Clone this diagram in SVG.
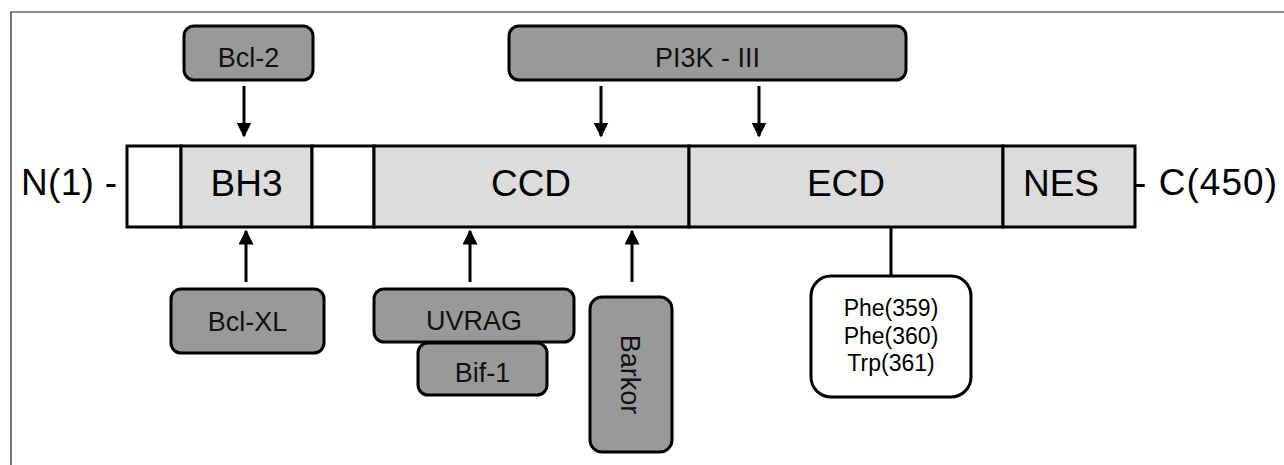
<svg xmlns="http://www.w3.org/2000/svg" width="1284" height="465" viewBox="0 0 1284 465">
  <style>
    .frame { fill: none; stroke: #1a1a1a; stroke-width: 1.2; }
    .dom { stroke: #000; stroke-width: 3; }
    .dom-blank { fill: #ffffff; }
    .dom-fill { fill: #dcdcdc; }
    .partner { fill: #999999; stroke: #000; stroke-width: 3; }
    .site { fill: #ffffff; stroke: #000; stroke-width: 3; }
    .big { font-family: "Liberation Sans", Arial, sans-serif; font-size: 37px; fill: #000; }
    .lbl { font-family: "Liberation Sans", Arial, sans-serif; font-size: 27px; fill: #111; text-anchor: middle; }
    .res { font-family: "Liberation Sans", Arial, sans-serif; font-size: 23px; fill: #000; text-anchor: middle; }
    .link { stroke: #000; stroke-width: 3; fill: none; }
  </style>
  <defs>
    <marker id="head" markerWidth="5" markerHeight="5" refX="4.5" refY="2.5" orient="auto" markerUnits="strokeWidth">
      <path d="M0,0 L5,2.5 L0,5 Z" fill="#000"/>
    </marker>
  </defs>

  <rect width="1284" height="465" fill="#ffffff"/>
  <!-- outer frame: top and left edges only -->
  <path class="frame" d="M11,465 V12 H1284"/>

  <!-- terminal labels -->
  <g id="n-term"><text class="big" x="21" y="195" textLength="96" lengthAdjust="spacing">N(1) -</text></g>
  <g id="c-term"><text class="big" x="1134" y="195" textLength="143" lengthAdjust="spacing">- C(450)</text></g>

  <!-- domain bar -->
  <g id="seg-1"><rect class="dom dom-blank" x="127" y="146" width="54" height="81"/></g>
  <g id="bh3">
    <rect class="dom dom-fill" x="181" y="146" width="131" height="81"/>
    <text class="big" x="246.5" y="196" text-anchor="middle">BH3</text>
  </g>
  <g id="seg-2"><rect class="dom dom-blank" x="312" y="146" width="62" height="81"/></g>
  <g id="ccd">
    <rect class="dom dom-fill" x="374" y="146" width="315" height="81"/>
    <text class="big" x="531" y="196" text-anchor="middle">CCD</text>
  </g>
  <g id="ecd">
    <rect class="dom dom-fill" x="689" y="146" width="314" height="81"/>
    <text class="big" x="846" y="196" text-anchor="middle">ECD</text>
  </g>
  <g id="nes">
    <rect class="dom dom-fill" x="1003" y="146" width="132" height="81"/>
    <text class="big" x="1061" y="196" text-anchor="middle">NES</text>
  </g>

  <!-- binding partners -->
  <g id="bcl2">
    <rect class="partner" x="184" y="26" width="129" height="54" rx="10"/>
    <text class="lbl" x="248.5" y="67">Bcl-2</text>
  </g>
  <g id="pi3k">
    <rect class="partner" x="509" y="26" width="397" height="54" rx="10"/>
    <text class="lbl" x="707.5" y="67">PI3K - III</text>
  </g>
  <g id="bclxl">
    <rect class="partner" x="171" y="289" width="153" height="64" rx="10"/>
    <text class="lbl" x="247.5" y="331">Bcl-XL</text>
  </g>
  <g id="uvrag">
    <rect class="partner" x="374" y="289" width="200" height="53" rx="10"/>
    <text class="lbl" x="474" y="330">UVRAG</text>
  </g>
  <g id="bif1">
    <rect class="partner" x="418" y="343" width="129" height="52" rx="10"/>
    <text class="lbl" x="482.5" y="382">Bif-1</text>
  </g>
  <g id="barkor">
    <rect class="partner" x="590" y="297" width="82" height="155" rx="12"/>
    <text class="lbl" transform="translate(621,374.5) rotate(90)" x="0" y="0">Barkor</text>
  </g>
  <g id="ecd-residues">
    <rect class="site" x="811" y="276" width="160" height="121" rx="20"/>
    <text class="res" x="891" y="316">Phe(359)</text>
    <text class="res" x="891" y="343.5">Phe(360)</text>
    <text class="res" x="891" y="371">Trp(361)</text>
  </g>

  <!-- connectors -->
  <g id="connectors">
    <line class="link" x1="244" y1="86" x2="244" y2="136" marker-end="url(#head)"/>
    <line class="link" x1="601" y1="86" x2="601" y2="136" marker-end="url(#head)"/>
    <line class="link" x1="759" y1="86" x2="759" y2="136" marker-end="url(#head)"/>
    <line class="link" x1="246" y1="282" x2="246" y2="231" marker-end="url(#head)"/>
    <line class="link" x1="470" y1="282" x2="470" y2="231" marker-end="url(#head)"/>
    <line class="link" x1="632" y1="282" x2="632" y2="231" marker-end="url(#head)"/>
    <line class="link" x1="891" y1="227" x2="891" y2="276"/>
  </g>
</svg>
